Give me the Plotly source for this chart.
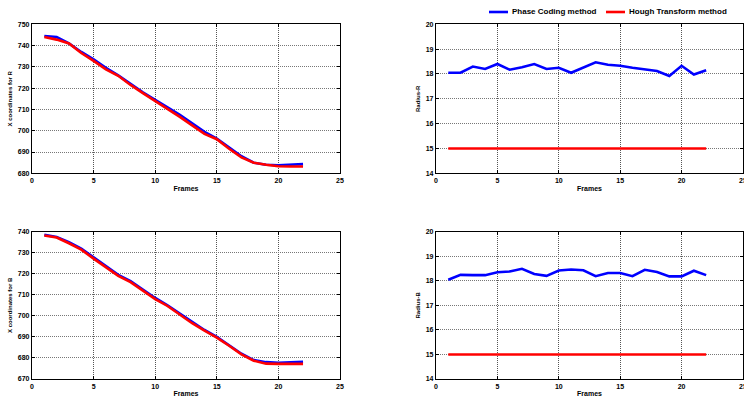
import plotly.graph_objects as go

# Frame index shared by all four panels
frames = list(range(1, 23))

# X coordinate of circle R, per method
xr_phase = [744.5, 744.0, 741.0, 737.0, 733.5, 729.5, 726.0, 722.0, 718.0, 714.5, 711.0,
            707.5, 703.5, 699.5, 696.3, 692.0, 688.0, 685.0, 684.0, 683.8, 684.2, 684.3]
xr_hough = [744.0, 742.8, 741.0, 736.5, 732.8, 728.8, 725.8, 721.5, 717.7, 714.0, 710.5,
            706.5, 702.5, 698.5, 696.0, 691.5, 687.5, 685.0, 684.0, 683.3, 683.2, 683.2]

# X coordinate of circle B, per method
xb_phase = [738.5, 737.5, 735.0, 732.0, 727.8, 723.5, 719.5, 716.5, 712.5, 708.5, 705.0,
            701.0, 697.0, 693.3, 690.0, 686.0, 682.0, 679.0, 678.0, 677.7, 678.0, 678.2]
xb_hough = [738.2, 737.2, 734.5, 731.5, 727.2, 723.0, 719.0, 716.0, 712.0, 708.0, 704.7,
            700.5, 696.5, 693.0, 689.7, 685.8, 681.7, 678.7, 677.3, 677.2, 677.2, 677.2]

# Radius of circle R, per method
rr_phase = [18.05, 18.05, 18.30, 18.20, 18.40, 18.17, 18.27, 18.40, 18.20, 18.25, 18.05,
            18.25, 18.47, 18.37, 18.33, 18.25, 18.17, 18.12, 17.92, 18.33, 17.98, 18.15]
rr_hough = [15.0] * 22

# Radius of circle B, per method
rb_phase = [18.04, 18.24, 18.23, 18.23, 18.35, 18.38, 18.49, 18.28, 18.20, 18.42, 18.46,
            18.43, 18.19, 18.32, 18.32, 18.19, 18.45, 18.36, 18.18, 18.18, 18.41, 18.23]
rb_hough = [15.0] * 22

method_names = ["Phase Coding method", "Hough Transform method"]
method_colors = ["#0000ff", "#ff0000"]

W, H = 744, 397
FONT = "Arial, Liberation Sans, sans-serif"

fig = go.Figure()

panels = [
    # (x-axis id, y-axis id, phase series, hough series)
    ("x", "y", xr_phase, xr_hough),
    ("x2", "y2", rr_phase, rr_hough),
    ("x3", "y3", xb_phase, xb_hough),
    ("x4", "y4", rb_phase, rb_hough),
]
for xa, ya, phase, hough in panels:
    for name, color, vals in zip(method_names, method_colors, [phase, hough]):
        fig.add_trace(go.Scatter(
            x=frames, y=vals, mode="lines", name=name,
            line=dict(color=color, width=2.6),
            xaxis=xa, yaxis=ya, showlegend=False, hoverinfo="skip",
        ))


def px_x(p):
    return p / W


def px_y(p):
    return 1 - p / H


left_dom = [px_x(32), px_x(340)]
right_dom = [px_x(436), px_x(743)]
top_dom = [px_y(173.3), px_y(24.3)]
bot_dom = [px_y(379), px_y(231.7)]

tickfont = dict(family=FONT, size=7, color="black", weight="bold")
titlefont = dict(family=FONT, size=7, color="black", weight="bold")


def xaxis(domain, anchor):
    return dict(
        domain=domain, anchor=anchor, range=[0, 25], tickvals=[0, 5, 10, 15, 20, 25],
        showline=True, linecolor="black", linewidth=1.3, mirror="ticks",
        ticks="inside", ticklen=3, tickcolor="black", tickwidth=1,
        showgrid=True, gridcolor="#555555", griddash="1px,1px", gridwidth=1,
        zeroline=False, tickfont=tickfont, automargin=False, ticklabeloverflow="allow",
        title=dict(text="Frames", font=titlefont, standoff=3),
    )


def yaxis(domain, anchor, rng, step, title):
    vals = list(range(rng[0], rng[1] + 1, step))
    return dict(
        domain=domain, anchor=anchor, range=rng, tickvals=vals,
        showline=True, linecolor="black", linewidth=1.3, mirror="ticks",
        ticks="inside", ticklen=3, tickcolor="black", tickwidth=1,
        showgrid=True, gridcolor="#777777", griddash="1px,1px", gridwidth=1,
        zeroline=False, tickfont=tickfont, automargin=False,
        title=dict(text=title, font=dict(family=FONT, size=6, color="black", weight="bold"),
                   standoff=4),
    )


fig.update_layout(
    width=W, height=H,
    margin=dict(l=0, r=0, t=0, b=0, autoexpand=False),
    paper_bgcolor="white", plot_bgcolor="white",
    showlegend=False,
    xaxis=xaxis(left_dom, "y"),
    yaxis=yaxis(top_dom, "x", [680, 750], 10, "X coordinates for R"),
    xaxis2=xaxis(right_dom, "y2"),
    yaxis2=yaxis(top_dom, "x2", [14, 20], 1, "Radius-R"),
    xaxis3=xaxis(left_dom, "y3"),
    yaxis3=yaxis(bot_dom, "x3", [670, 740], 10, "X coordinates for B"),
    xaxis4=xaxis(right_dom, "y4"),
    yaxis4=yaxis(bot_dom, "x4", [14, 20], 1, "Radius-B"),
)

# Legend row above the top-right panel
legend_items = [(489, 508, 510), (606, 625, 627)]
for (x0, x1, xt), name, color in zip(legend_items, method_names, method_colors):
    fig.add_shape(type="line", xref="paper", yref="paper",
                  x0=px_x(x0), x1=px_x(x1), y0=px_y(12), y1=px_y(12),
                  line=dict(color=color, width=2.6))
    fig.add_annotation(xref="paper", yref="paper", x=px_x(xt), y=px_y(12),
                       xanchor="left", yanchor="middle", showarrow=False,
                       text=name, font=dict(family=FONT, size=8, color="black", weight="bold"))

fig.write_html("out.html")
